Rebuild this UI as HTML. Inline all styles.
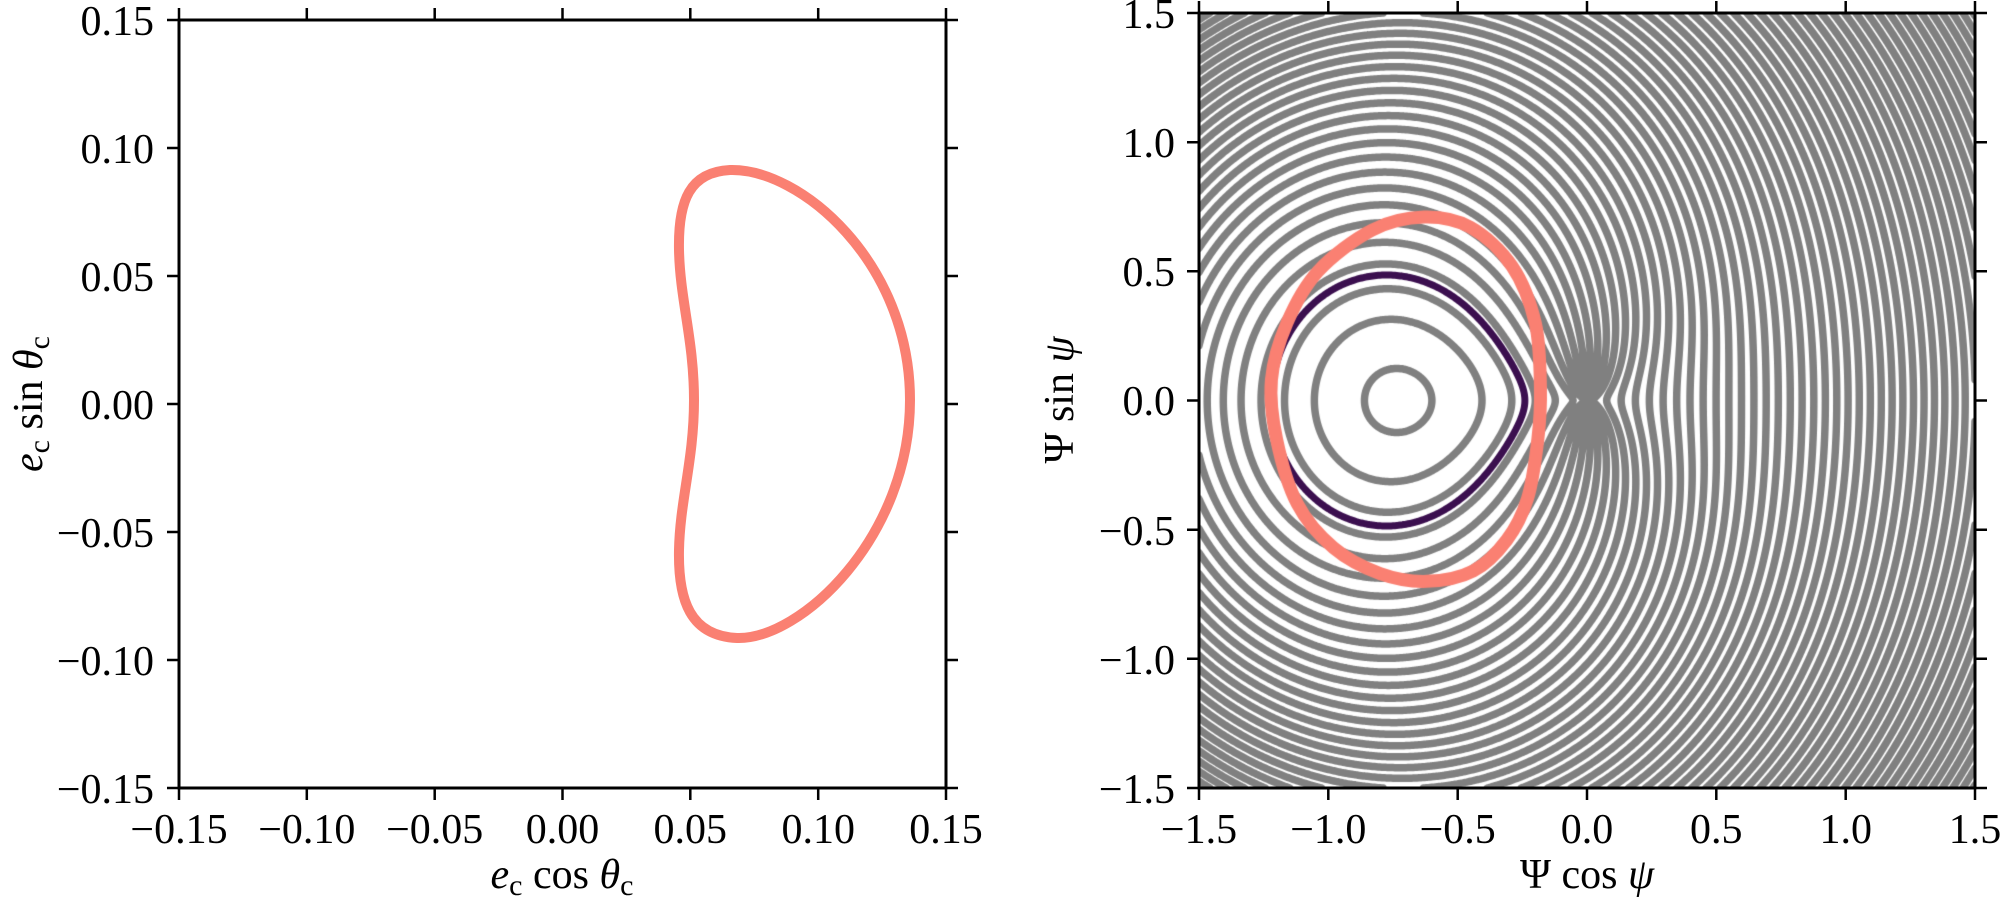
<!DOCTYPE html>
<html><head><meta charset="utf-8">
<style>
html,body{margin:0;padding:0;background:#fff;}
body{width:2000px;height:901px;position:relative;overflow:hidden;}
#cv{position:absolute;left:1199px;top:13px;}
svg{position:absolute;left:0;top:0;}
text{font-family:"Liberation Serif","DejaVu Serif",serif;font-size:42px;fill:#000;}
</style></head>
<body>
<canvas id="cv" width="776" height="775"></canvas>
<svg width="2000" height="901" viewBox="0 0 2000 901">
<path d="M694,400 C694,340 680,300 679,250 C678,200 690,172 730,170 C800,168 910,262 910,400 C910,538 800,640 737,638 C690,636 678,600 679,550 C680,500 694,460 694,400 Z" fill="none" stroke="#fa8072" stroke-width="10"/>
<rect x="179" y="20" width="767" height="768" fill="none" stroke="#000" stroke-width="3"/>
<g stroke="#000" stroke-width="2.5">
<path d="M179,788v12M306.8,788v12M434.7,788v12M562.5,788v12M690.3,788v12M818.2,788v12M946,788v12"/>
<path d="M179,20v-12M306.8,20v-12M434.7,20v-12M562.5,20v-12M690.3,20v-12M818.2,20v-12M946,20v-12"/>
<path d="M179,20h-12M179,148h-12M179,276h-12M179,404h-12M179,532h-12M179,660h-12M179,788h-12"/>
<path d="M946,20h12M946,148h12M946,276h12M946,404h12M946,532h12M946,660h12M946,788h12"/>
</g>
<g text-anchor="middle">
<text x="179" y="843">−0.15</text><text x="306.8" y="843">−0.10</text><text x="434.7" y="843">−0.05</text><text x="562.5" y="843">0.00</text><text x="690.3" y="843">0.05</text><text x="818.2" y="843">0.10</text><text x="946" y="843">0.15</text>
</g>
<g text-anchor="end">
<text x="154" y="35">0.15</text><text x="154" y="163">0.10</text><text x="154" y="291">0.05</text><text x="154" y="419">0.00</text><text x="154" y="547">−0.05</text><text x="154" y="675">−0.10</text><text x="154" y="803">−0.15</text>
</g>
<text x="562" y="888" text-anchor="middle"><tspan font-style="italic">e</tspan><tspan font-size="30" dy="7">c</tspan><tspan dy="-7"> cos </tspan><tspan font-style="italic">θ</tspan><tspan font-size="30" dy="7">c</tspan></text>
<text transform="translate(42,404) rotate(-90)" text-anchor="middle"><tspan font-style="italic">e</tspan><tspan font-size="30" dy="7">c</tspan><tspan dy="-7"> sin </tspan><tspan font-style="italic">θ</tspan><tspan font-size="30" dy="7">c</tspan></text>

<rect x="1199" y="13" width="776" height="775" fill="none" stroke="#000" stroke-width="3"/>
<g stroke="#000" stroke-width="2.5">
<path d="M1199,788v12M1328.3,788v12M1457.7,788v12M1587,788v12M1716.3,788v12M1845.7,788v12M1975,788v12"/>
<path d="M1199,13v-12M1328.3,13v-12M1457.7,13v-12M1587,13v-12M1716.3,13v-12M1845.7,13v-12M1975,13v-12"/>
<path d="M1199,13h-12M1199,142.2h-12M1199,271.3h-12M1199,400.5h-12M1199,529.7h-12M1199,658.8h-12M1199,788h-12"/>
<path d="M1975,13h12M1975,142.2h12M1975,271.3h12M1975,400.5h12M1975,529.7h12M1975,658.8h12M1975,788h12"/>
</g>
<g text-anchor="middle">
<text x="1199" y="843">−1.5</text><text x="1328.3" y="843">−1.0</text><text x="1457.7" y="843">−0.5</text><text x="1587" y="843">0.0</text><text x="1716.3" y="843">0.5</text><text x="1845.7" y="843">1.0</text><text x="1975" y="843">1.5</text>
</g>
<g text-anchor="end">
<text x="1175" y="28">1.5</text><text x="1175" y="157">1.0</text><text x="1175" y="286">0.5</text><text x="1175" y="415">0.0</text><text x="1175" y="545">−0.5</text><text x="1175" y="674">−1.0</text><text x="1175" y="803">−1.5</text>
</g>
<text x="1587" y="888" text-anchor="middle">Ψ cos <tspan font-style="italic">ψ</tspan></text>
<text transform="translate(1073,400) rotate(-90)" text-anchor="middle">Ψ sin <tspan font-style="italic">ψ</tspan></text>
</svg>
<script>
(function(){
var cv=document.getElementById('cv');var ctx=cv.getContext('2d');
var W=776,Hh=775;
var H0=0.566;
function H(x,y){var P=Math.sqrt(x*x+y*y);var c=P>1e-12?x/P:-1;
var base=0.5*(P-0.73)*(P-0.73);var R=H0+0.76*P+0.125*P*P;
var A=0.5*(base+R);var B=0.5*(R-base);return A+B*c;}
var N=420;var v=[];
for(var i=0;i<=N;i++){v[i]=new Float64Array(N+1);for(var j=0;j<=N;j++){v[i][j]=H(-1.5+3*i/N,-1.5+3*j/N);}}
function px(x){return (x+1.5)/3*W;}function py(y){return (1.5-y)/3*Hh;}
function contour(levels,color,lw){
ctx.beginPath();
for(var i=0;i<N;i++)for(var j=0;j<N;j++){
var a=v[i][j],b=v[i+1][j],c=v[i+1][j+1],d=v[i][j+1];
var lo=Math.min(a,b,c,d),hi=Math.max(a,b,c,d);
var x0=-1.5+3*i/N,x1=-1.5+3*(i+1)/N,y0=-1.5+3*j/N,y1=-1.5+3*(j+1)/N;
for(var k=0;k<levels.length;k++){var L=levels[k];if(L<lo||L>hi)continue;
var pts=[];
if((a-L)*(b-L)<0){var t=(L-a)/(b-a);pts.push([x0+t*(x1-x0),y0]);}
if((b-L)*(c-L)<0){var t=(L-b)/(c-b);pts.push([x1,y0+t*(y1-y0)]);}
if((c-L)*(d-L)<0){var t=(L-c)/(d-c);pts.push([x1+t*(x0-x1),y1]);}
if((d-L)*(a-L)<0){var t=(L-d)/(a-d);pts.push([x0,y1+t*(y0-y1)]);}
for(var p=0;p+1<pts.length;p+=2){ctx.moveTo(px(pts[p][0]),py(pts[p][1]));ctx.lineTo(px(pts[p+1][0]),py(pts[p+1][1]));}
}}
ctx.strokeStyle=color;ctx.lineWidth=lw;ctx.lineCap='round';ctx.lineJoin='round';ctx.stroke();}
var lv=[];for(var h=0.0085;h<3.2;h+=0.044)lv.push(h);
contour(lv,'#808080',7.5);
contour([0.12],'#3b0f4f',7);
var s=[[-0.18,0.05],[-0.2,0.3],[-0.29,0.52],[-0.45,0.67],[-0.63,0.71],[-0.83,0.66],[-1.04,0.5],[-1.16,0.3],[-1.22,0.08],[-1.2,-0.15],[-1.12,-0.4],[-0.98,-0.57],[-0.8,-0.67],[-0.62,-0.7],[-0.44,-0.66],[-0.31,-0.54],[-0.23,-0.38],[-0.19,-0.15]];
ctx.beginPath();var n=s.length;
for(var k=0;k<n;k++){var p0=s[(k-1+n)%n],p1=s[k],p2=s[(k+1)%n],p3=s[(k+2)%n];
if(k==0)ctx.moveTo(px(p1[0]),py(p1[1]));
var c1x=p1[0]+(p2[0]-p0[0])/6,c1y=p1[1]+(p2[1]-p0[1])/6,c2x=p2[0]-(p3[0]-p1[0])/6,c2y=p2[1]-(p3[1]-p1[1])/6;
ctx.bezierCurveTo(px(c1x),py(c1y),px(c2x),py(c2y),px(p2[0]),py(p2[1]));}
ctx.closePath();ctx.strokeStyle='#fa8072';ctx.lineWidth=13;ctx.stroke();
})();
</script>
</body></html>
